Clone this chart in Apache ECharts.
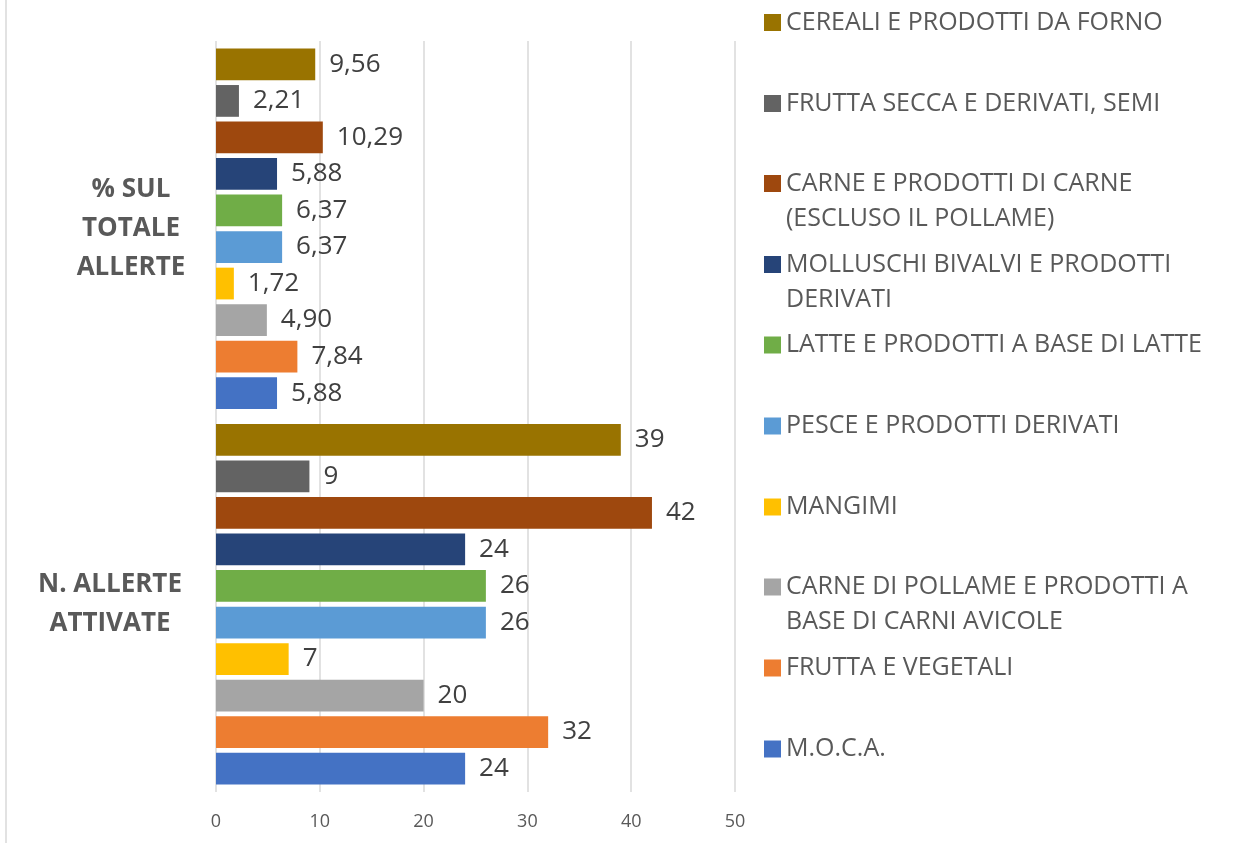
<!DOCTYPE html>
<html>
<head>
<meta charset="utf-8">
<script src="https://cdn.jsdelivr.net/npm/echarts@6/dist/echarts.min.js"></script>
<style>
  html, body { margin: 0; padding: 0; background: #fff; }
  #chart { width: 1239px; height: 843px; }
</style>
</head>
<body>
<div id="chart"></div>
<script>
// categorie (dal basso verso l'alto)
const categories = ['N. ALLERTE ATTIVATE', '% SUL TOTALE ALLERTE'];
// serie, dall'alto verso il basso dentro ogni gruppo
const seriesNames = [
  'CEREALI E PRODOTTI DA FORNO',
  'FRUTTA SECCA E DERIVATI, SEMI',
  'CARNE E PRODOTTI DI CARNE (ESCLUSO IL POLLAME)',
  'MOLLUSCHI BIVALVI E PRODOTTI DERIVATI',
  'LATTE E PRODOTTI A BASE DI LATTE',
  'PESCE E PRODOTTI DERIVATI',
  'MANGIMI',
  'CARNE DI POLLAME E PRODOTTI A BASE DI CARNI AVICOLE',
  'FRUTTA E VEGETALI',
  'M.O.C.A.'
];
const legendLabels = [
  'CEREALI E PRODOTTI DA FORNO',
  'FRUTTA SECCA E DERIVATI, SEMI',
  'CARNE E PRODOTTI DI CARNE\n(ESCLUSO IL POLLAME)',
  'MOLLUSCHI BIVALVI E PRODOTTI\nDERIVATI',
  'LATTE E PRODOTTI A BASE DI LATTE',
  'PESCE E PRODOTTI DERIVATI',
  'MANGIMI',
  'CARNE DI POLLAME E PRODOTTI A\nBASE DI CARNI AVICOLE',
  'FRUTTA E VEGETALI',
  'M.O.C.A.'
];
// n. allerte attivate
const counts = [39, 9, 42, 24, 26, 26, 7, 20, 32, 24];
// % sul totale allerte
const percents = [9.56, 2.21, 10.29, 5.88, 6.37, 6.37, 1.72, 4.90, 7.84, 5.88];
const colors = ['#997300', '#636363', '#9E480E', '#264478', '#70AD47',
                '#5B9BD5', '#FFC000', '#A5A5A5', '#ED7D31', '#4472C4'];
const xTicks = [0, 10, 20, 30, 40, 50];

const FONT = '"Open Sans", sans-serif';
const chart = echarts.init(document.getElementById('chart'));

// posizione verticale (centro del quadratino) di ogni voce della legenda
const legendCenters = [22.5, 103.5, 183.5, 264.5, 345, 426, 507, 587, 668, 749];
const LH = 35;
const legends = seriesNames.map((name, i) => {
  const twoLines = legendLabels[i].indexOf('\n') >= 0;
  // per le voci su due righe: riga vuota sopra, così il quadratino sta sulla prima riga
  const text = twoLines ? '\n' + legendLabels[i] : legendLabels[i];
  return {
    data: [name],
    left: 764,
    top: legendCenters[i] - (twoLines ? 1.5 * LH : 0.5 * LH),
    padding: 0,
    icon: 'rect',
    itemWidth: 17,
    itemHeight: 17,
    selectedMode: false,
    formatter: () => text,
    textStyle: {
      fontFamily: FONT,
      fontSize: 25,
      color: '#595959',
      lineHeight: LH
    }
  };
});

const series = seriesNames.map((name, i) => ({
  name: name,
  type: 'bar',
  data: [counts[i], percents[i]],
  itemStyle: { color: colors[i] },
  barGap: '15%',
  barCategoryGap: '4%',
  label: {
    show: true,
    position: 'right',
    distance: 14,
    fontFamily: FONT,
    fontSize: 26,
    color: '#404040',
    formatter: p => p.dataIndex === 1 ? p.value.toFixed(2).replace('.', ',') : String(p.value)
  }
}));

chart.setOption({
  animation: false,
  backgroundColor: '#fff',
  grid: { left: 216, right: 504, top: 41, bottom: 51 },
  legend: legends,
  graphic: [{
    type: 'line',
    shape: { x1: 6, y1: 0, x2: 6, y2: 843 },
    style: { stroke: '#d9d9d9', lineWidth: 1.5 }
  }],
  xAxis: {
    type: 'value',
    min: xTicks[0],
    max: xTicks[xTicks.length - 1],
    interval: 10,
    axisLine: { show: false },
    axisTick: { show: false },
    splitLine: { lineStyle: { color: '#d9d9d9', width: 1.5 } },
    axisLabel: { fontFamily: FONT, fontSize: 18, color: '#595959', margin: 21 }
  },
  yAxis: {
    type: 'category',
    data: categories,
    axisLine: { show: false },
    axisTick: { show: false },
    axisLabel: {
      align: 'center',
      margin: 85,
      formatter: v => v === categories[1]
        ? '{a|% SUL}\n{a|TOTALE}\n{a|ALLERTE}'
        : '{b|N. ALLERTE}\n{b|ATTIVATE}',
      rich: {
        a: { fontFamily: FONT, fontSize: 26, fontWeight: 'bold', color: '#595959', lineHeight: 39 },
        b: { fontFamily: FONT, fontSize: 26, fontWeight: 'bold', color: '#595959', lineHeight: 39, padding: [0, 42, 0, 0] }
      }
    }
  },
  series: series
});
</script>
</body>
</html>
